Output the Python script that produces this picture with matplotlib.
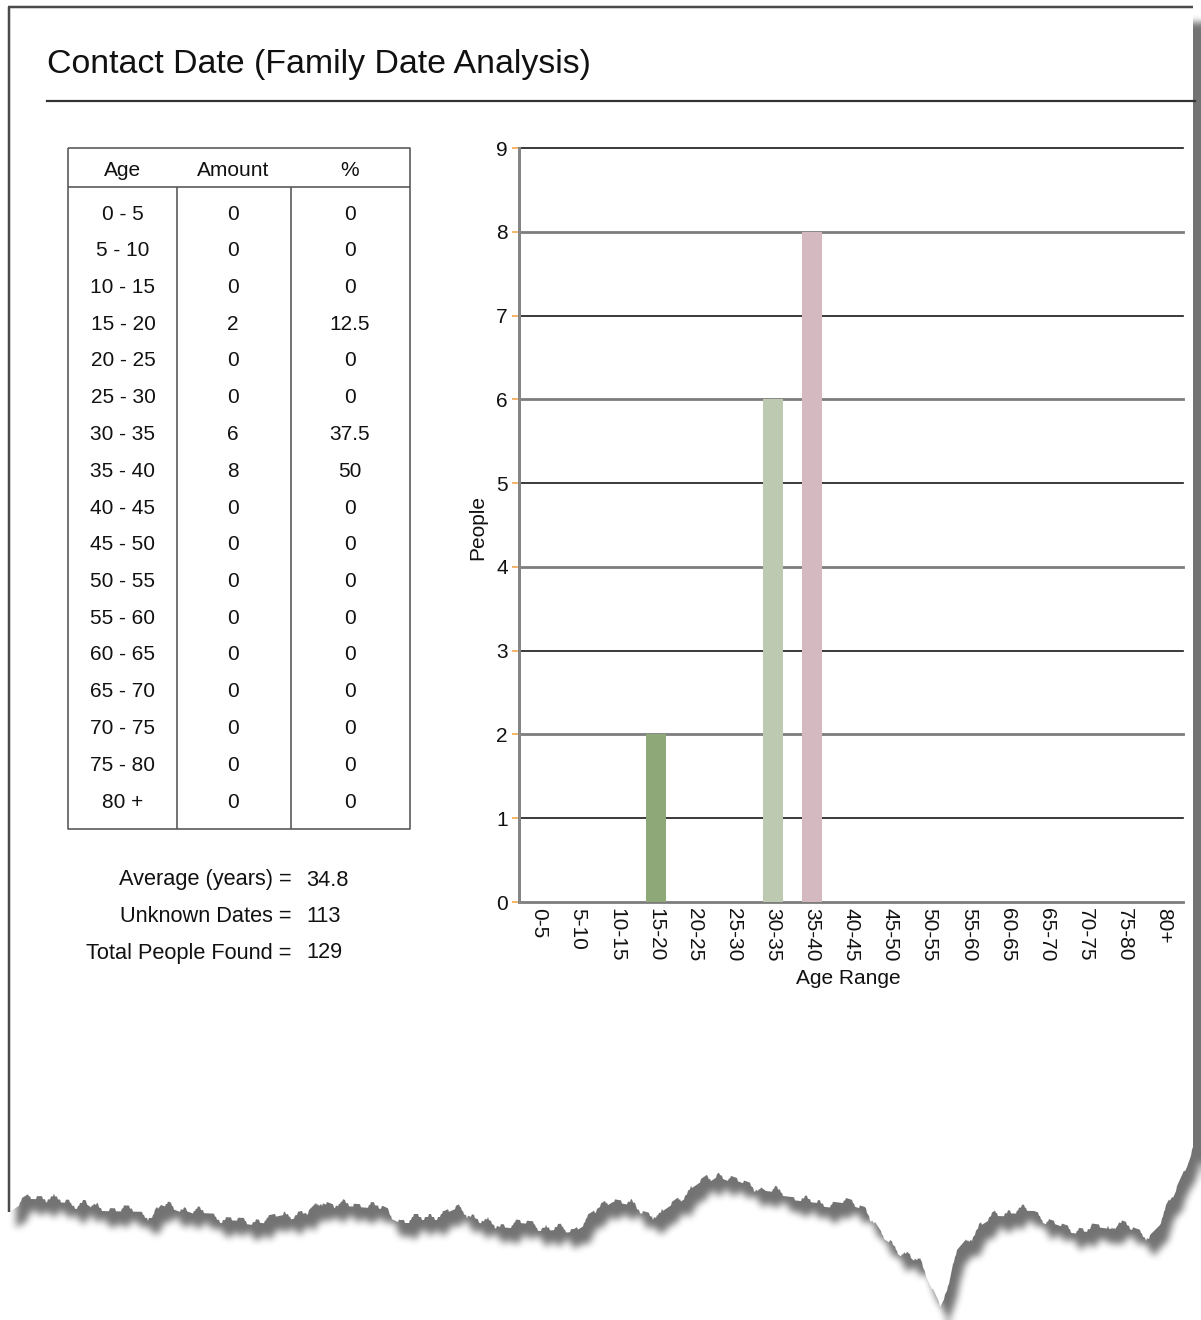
import numpy as np
import matplotlib
matplotlib.use("Agg")
import matplotlib.pyplot as plt

plt.rcParams["font.family"] = ["Liberation Sans", "DejaVu Sans"]

# ---- report data -------------------------------------------------------
age_groups = ["0 - 5", "5 - 10", "10 - 15", "15 - 20", "20 - 25", "25 - 30",
              "30 - 35", "35 - 40", "40 - 45", "45 - 50", "50 - 55", "55 - 60",
              "60 - 65", "65 - 70", "70 - 75", "75 - 80", "80 +"]
age_ranges = ["0-5", "5-10", "10-15", "15-20", "20-25", "25-30", "30-35",
              "35-40", "40-45", "45-50", "50-55", "55-60", "60-65", "65-70",
              "70-75", "75-80", "80+"]
amounts = [0, 0, 0, 2, 0, 0, 6, 8, 0, 0, 0, 0, 0, 0, 0, 0, 0]
percents = [0, 0, 0, 12.5, 0, 0, 37.5, 50, 0, 0, 0, 0, 0, 0, 0, 0, 0]
summary_labels = ["Average (years) =", "Unknown Dates =", "Total People Found ="]
summary_values = ["34.8", "113", "129"]
y_ticks = [0, 1, 2, 3, 4, 5, 6, 7, 8, 9]
bar_palette = {"15-20": "#8FA878", "30-35": "#BDC9B1", "35-40": "#D4B9C1"}

# ---- canvas (pixel coordinates for the page decoration) ------------------
W, H = 1201, 1320
PX = 0.72  # points per pixel at 100 dpi
fig = plt.figure(figsize=(W / 100, H / 100), dpi=100)
fig.patch.set_facecolor("white")
bg = fig.add_axes([0, 0, 1, 1], zorder=0)
bg.set_xlim(0, W)
bg.set_ylim(H, 0)
bg.axis("off")

# torn bottom edge of the page: coarse outline plus a ragged texture
tear_pts = [(9, 1212), (30, 1199), (85, 1200), (100, 1211), (153, 1212),
            (161, 1202), (200, 1216), (245, 1218), (270, 1221), (306, 1213),
            (322, 1197), (345, 1206), (383, 1209), (400, 1217), (444, 1217),
            (460, 1210), (500, 1224), (540, 1228), (574, 1226), (613, 1202),
            (636, 1206), (660, 1213), (689, 1193), (720, 1172), (751, 1183),
            (766, 1194), (843, 1203), (865, 1210), (881, 1234), (905, 1250),
            (919, 1262), (930, 1285), (940, 1307), (949, 1290), (957, 1250),
            (980, 1223), (996, 1213), (1034, 1214), (1072, 1227), (1111, 1232),
            (1118, 1222), (1149, 1233), (1160, 1222), (1172, 1200),
            (1187, 1167), (1193, 1150)]
tx = np.array([p[0] for p in tear_pts], float)
ty = np.array([p[1] for p in tear_pts], float)
cols = np.arange(W)
rough = (2.6 * np.sin(cols / 2.3) + 2.4 * np.sin(cols / 5.7 + 0.8)
         + 3.4 * np.sin(cols / 13.1 + 2.1))
tear = np.interp(cols, tx, ty) + np.round(rough / 3.0) * 3.0
page_l, page_r, page_t = 9, 1193, 7

# drop shadow: page silhouette, offset and softened
yy, xx = np.mgrid[0:H, 0:W]
sil = ((xx >= page_l) & (xx <= page_r) & (yy >= page_t)
       & (yy <= tear[None, :])).astype(float)
dx, dy = 7, 15
shadow = np.zeros_like(sil)
shadow[dy:, dx:] = sil[:-dy, :-dx]


def box_blur(a, r, axis):
    pad = [(0, 0), (0, 0)]
    pad[axis] = (r + 1, r)
    c = np.cumsum(np.pad(a, pad, mode="edge"), axis=axis)
    n = a.shape[axis]
    hi = np.take(c, np.arange(2 * r + 1, 2 * r + 1 + n), axis=axis)
    lo = np.take(c, np.arange(0, n), axis=axis)
    return (hi - lo) / (2 * r + 1)


for _ in range(3):
    shadow = box_blur(shadow, 3, 0)
    shadow = box_blur(shadow, 3, 1)
rgba = np.zeros((H, W, 4))
rgba[..., 3] = 0.55 * shadow
bg.imshow(rgba, extent=(0, W, H, 0), interpolation="bilinear", zorder=0,
          aspect="auto")

# the page itself
edge_x = cols[page_l:page_r + 1]
edge_y = tear[page_l:page_r + 1]
poly_x = np.concatenate([[page_l, page_r], edge_x[::-1]])
poly_y = np.concatenate([[page_t, page_t], edge_y[::-1]])
bg.fill(poly_x, poly_y, color="white", lw=0, zorder=1)
bg.plot([page_l - 1, page_r], [page_t, page_t], color="#4a4a4a",
        lw=2.5 * PX, zorder=2, solid_capstyle="butt")
bg.plot([page_l, page_l], [page_t, tear[page_l]], color="#4a4a4a",
        lw=2.5 * PX, zorder=2, solid_capstyle="butt")

# heading
bg.text(47, 65, "Contact Date (Family Date Analysis)", fontsize=24.4,
        color="#111111", ha="left", va="center", zorder=3)
bg.plot([47, 1195], [101, 101], color="#333333", lw=2.2 * PX, zorder=3)

# ---- summary table -------------------------------------------------------
t_left, t_right, t_top, t_head, t_bot = 68, 410, 148, 187, 829
col_x = [123, 233, 350]
div_x = [177, 291]
row0, row_step = 214, 36.75
line_kw = dict(color="#555555", lw=1.6 * PX, zorder=3, solid_capstyle="butt")
bg.plot([t_left, t_right, t_right, t_left, t_left],
        [t_top, t_top, t_bot, t_bot, t_top], **line_kw)
bg.plot([t_left, t_right], [t_head, t_head], **line_kw)
for x in div_x:
    bg.plot([x, x], [t_head, t_bot], **line_kw)
txt_kw = dict(fontsize=15, color="#111111", ha="center", va="center", zorder=4)
for x, head in zip(col_x, ["Age", "Amount", "%"]):
    bg.text(x, 170, head, **txt_kw)
for i, (grp, amt, pct) in enumerate(zip(age_groups, amounts, percents)):
    y = row0 + i * row_step
    bg.text(col_x[0], y, grp, **txt_kw)
    bg.text(col_x[1], y, f"{amt}", **txt_kw)
    bg.text(col_x[2], y, f"{pct:g}", **txt_kw)

for i, (lab, val) in enumerate(zip(summary_labels, summary_values)):
    y = 880 + i * 36.5
    bg.text(292, y, lab, fontsize=15.7, color="#111111", ha="right",
            va="center", zorder=4)
    bg.text(306, y, val, fontsize=15.7, color="#111111", ha="left",
            va="center", zorder=4)

# ---- bar chart -------------------------------------------------------------
a_l, a_r, a_t, a_b = 519, 1183, 148, 902
ax = fig.add_axes([a_l / W, 1 - a_b / H, (a_r - a_l) / W, (a_b - a_t) / H],
                  zorder=2)
ax.patch.set_visible(False)
pos = np.arange(len(age_ranges))
colors = [bar_palette.get(r, "#8FA878") for r in age_ranges]
ax.bar(pos, amounts, width=0.51, color=colors, zorder=3)
for v in y_ticks:
    even = v % 2 == 0
    ax.axhline(v, color="#7d7d7d" if even else "#1e1e1e",
               lw=(2.8 if even else 1.7) * PX, zorder=1, clip_on=False)
ax.set_xlim(-0.5, len(age_ranges) - 0.5)
ax.set_ylim(0, 9)
ax.set_yticks(y_ticks)
ax.set_xticks(pos)
ax.set_xticklabels(age_ranges, rotation=-90, fontsize=15, color="#111111")
ax.tick_params(axis="x", length=0, pad=4)
ax.tick_params(axis="y", length=5 * PX * 1.4, width=1.6 * PX,
               color="#F2A34A", pad=3, labelsize=15, labelcolor="#111111")
for s in ["top", "right", "bottom"]:
    ax.spines[s].set_visible(False)
ax.spines["left"].set_color("#858585")
ax.spines["left"].set_linewidth(3 * PX)
ax.spines["left"].set_zorder(4)

ax.set_ylabel("People", fontsize=15, color="#111111")
ax.yaxis.set_label_coords((478 - a_l) / (a_r - a_l), (a_b - 528) / (a_b - a_t))
ax.yaxis.label.set_va("center")
ax.set_xlabel("Age Range", fontsize=15, color="#111111")
ax.xaxis.set_label_coords((848 - a_l) / (a_r - a_l), (a_b - 979) / (a_b - a_t))
ax.xaxis.label.set_va("center")

fig.savefig("out.png", dpi=100)
